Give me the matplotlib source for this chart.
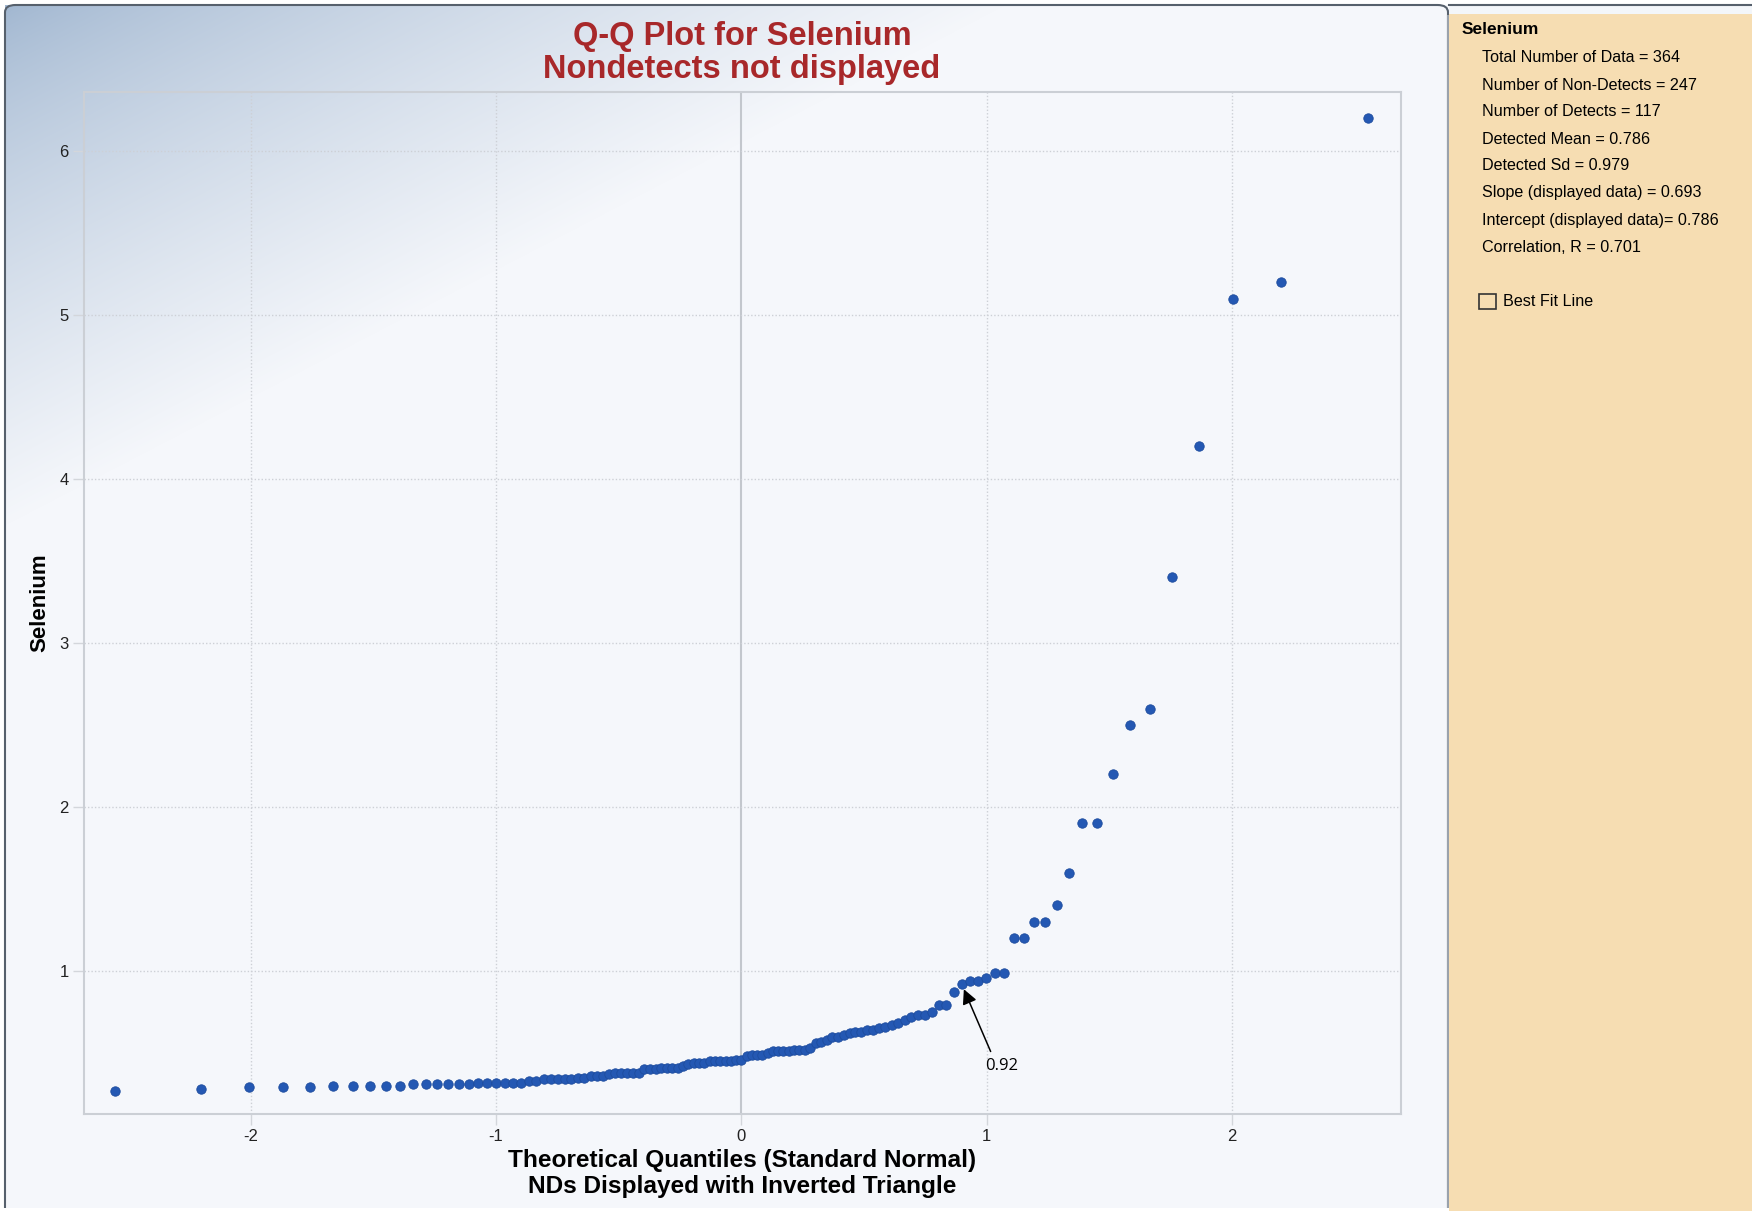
import matplotlib.pyplot as plt
import numpy as np
from statistics import NormalDist
from matplotlib.patches import Rectangle, FancyBboxPatch

# detected Selenium values, sorted
selenium = [
    0.27, 0.28, 0.29, 0.29, 0.29, 0.30, 0.30, 0.30, 0.30, 0.30,
    0.31, 0.31, 0.31, 0.31, 0.31, 0.31, 0.32, 0.32, 0.32, 0.32,
    0.32, 0.32, 0.33, 0.33, 0.34, 0.34, 0.34, 0.34, 0.34, 0.35,
    0.35, 0.36, 0.36, 0.36, 0.37, 0.38, 0.38, 0.38, 0.38, 0.38,
    0.40, 0.40, 0.40, 0.41, 0.41, 0.41, 0.41, 0.42, 0.43, 0.44,
    0.44, 0.44, 0.45, 0.45, 0.45, 0.45, 0.45, 0.46, 0.46, 0.48,
    0.49, 0.49, 0.49, 0.50, 0.51, 0.51, 0.51, 0.51, 0.52, 0.52,
    0.52, 0.53, 0.56, 0.57, 0.58, 0.60, 0.60, 0.61, 0.62, 0.63,
    0.63, 0.64, 0.64, 0.65, 0.66, 0.67, 0.68, 0.70, 0.72, 0.73,
    0.73, 0.75, 0.79, 0.79, 0.87, 0.92, 0.94, 0.94, 0.96, 0.99,
    0.99, 1.2, 1.2, 1.3, 1.3, 1.4, 1.6, 1.9, 1.9, 2.2,
    2.5, 2.6, 3.4, 4.2, 5.1, 5.2, 6.2,
]

title_lines = ['Q-Q Plot for Selenium', 'Nondetects not displayed']
xlabel_lines = ['Theoretical Quantiles (Standard Normal)', 'NDs Displayed with Inverted Triangle']
ylabel = 'Selenium'
stats_title = 'Selenium'
stats_lines = [
    'Total Number of Data = 364',
    'Number of Non-Detects = 247',
    'Number of Detects = 117',
    'Detected Mean = 0.786',
    'Detected Sd = 0.979',
    'Slope (displayed data) = 0.693',
    'Intercept (displayed data)= 0.786',
    'Correlation, R = 0.701',
]
x_ticks = [-2, -1, 0, 1, 2]
y_ticks = [1, 2, 3, 4, 5, 6]
annot_value = 0.92

# theoretical normal quantiles (Blom plotting positions) for the Q-Q plot
n = len(selenium)
nd = NormalDist()
quantiles = [nd.inv_cdf((i - 0.375) / (n + 0.25)) for i in range(1, n + 1)]

W, H = 1752, 1211
fig = plt.figure(figsize=(W / 100, H / 100), dpi=100)
fig.patch.set_facecolor('white')


def fx(px):
    return px / W


def fy(py):
    return 1 - py / H


# background panel with diagonal blue gradient
panel_l, panel_t, panel_r = 5, 5, 1448
bg = fig.add_axes([fx(panel_l), 0, fx(panel_r - panel_l), fy(panel_t)])
bw, bh = panel_r - panel_l, H - panel_t
xx, yy = np.meshgrid(np.arange(bw), np.arange(bh))
s = np.clip(xx / 1000 + yy / 520, 0, 1) ** 0.75
c0 = np.array([160, 182, 208]) / 255
c1 = np.array([245, 247, 251]) / 255
img = c0[None, None, :] * (1 - s[..., None]) + c1[None, None, :] * s[..., None]
bg.imshow(img, aspect='auto', interpolation='bilinear')
bg.set_axis_off()
bg.set_zorder(0)
fig.patches.append(FancyBboxPatch((fx(panel_l), -0.02), fx(panel_r - panel_l), fy(panel_t) + 0.02,
                                  boxstyle='round,pad=0,rounding_size=0.006',
                                  transform=fig.transFigure, facecolor='none',
                                  edgecolor='#56606c', linewidth=1.5, zorder=5))
fig.lines.append(plt.Line2D([fx(panel_r), fx(panel_r)], [0, fy(16)], transform=fig.transFigure,
                            color='#9aa2ac', linewidth=1.5, zorder=6))
fig.patches.append(Rectangle((0, 0), fx(panel_r + 1), 3 / H, transform=fig.transFigure,
                             facecolor='white', edgecolor='none', zorder=6))

# right statistics panel
fig.patches.append(Rectangle((fx(1449), 0), 1 - fx(1449), fy(14), transform=fig.transFigure,
                             facecolor='#f6ddb2', edgecolor='none', zorder=7))
fig.patches.append(Rectangle((fx(1449), fy(14)), 1 - fx(1449), fy(5) - fy(14),
                             transform=fig.transFigure, facecolor='#f3f6fa',
                             edgecolor='none', zorder=7))
fig.lines.append(plt.Line2D([fx(1449), 1], [fy(5), fy(5)], transform=fig.transFigure,
                            color='#56606c', linewidth=1.5, zorder=8))

panel_font = 'Liberation Sans'
fig.text(fx(1462), fy(30), stats_title, fontsize=12.5, fontweight='bold',
         family=panel_font, va='center', ha='left', color='black', zorder=9)
for k, line in enumerate(stats_lines):
    fig.text(fx(1482), fy(58 + k * 27.0), line, fontsize=11.6, family=panel_font,
             va='center', ha='left', color='black', zorder=9)
fig.patches.append(Rectangle((fx(1479), fy(309)), fx(17), fy(294) - fy(309),
                             transform=fig.transFigure, facecolor='none',
                             edgecolor='#333333', linewidth=1.2, zorder=9))
fig.text(fx(1503), fy(302), 'Best Fit Line', fontsize=11.6, family=panel_font,
         va='center', ha='left', color='black', zorder=9)

# main Q-Q axes
ax = fig.add_axes([fx(84), fy(1114), fx(1401 - 84), fy(92) - fy(1114)])
ax.set_zorder(2)
ax.patch.set_alpha(0)

ax.scatter(quantiles, selenium, s=46, color='#2458b3', edgecolors='#1d4c9e',
           linewidths=0.6, zorder=4)

ax.set_xlim(-2.68, 2.69)
ax.set_ylim(0.128, 6.36)
ax.set_xticks(x_ticks)
ax.set_xticklabels([str(t) for t in x_ticks])
ax.set_yticks(y_ticks)
ax.set_yticklabels([str(t) for t in y_ticks])

for t in x_ticks:
    if t == 0:
        ax.axvline(t, color='#c3c7cd', linewidth=1.5, zorder=1)
    else:
        ax.axvline(t, color='#cdd0d6', linewidth=1.0, linestyle=(0, (1, 1.5)), zorder=1)
for t in y_ticks:
    ax.axhline(t, color='#cdd0d6', linewidth=1.0, linestyle=(0, (1, 1.5)), zorder=1)

for sp in ax.spines.values():
    sp.set_color('#cbcfd5')
    sp.set_linewidth(1.5)
ax.tick_params(axis='both', length=8, width=1, color='#d3d6db', labelcolor='#222222',
               labelsize=12)
ax.tick_params(axis='x', pad=3)
ax.tick_params(axis='y', pad=3)
for lab in ax.get_xticklabels() + ax.get_yticklabels():
    lab.set_family('Liberation Sans')

# title and axis labels, placed line by line
title_base = [45, 78]
for txt, yb in zip(title_lines, title_base):
    fig.text(fx(742), fy(yb), txt, color='#a8282a', fontsize=23.5, fontweight='bold',
             family='Liberation Sans', ha='center', va='baseline', zorder=9)
xlabel_base = [1167, 1193]
for txt, yb in zip(xlabel_lines, xlabel_base):
    fig.text(fx(742), fy(yb), txt, color='black', fontsize=17.6, fontweight='bold',
             family='Liberation Sans', ha='center', va='baseline', zorder=9)
ax.set_ylabel(ylabel, fontsize=16, fontweight='bold', family='Liberation Sans')
ax.yaxis.set_label_coords((50 - 84) / (1401 - 84), 0.5)

i92 = selenium.index(annot_value)
ax.annotate('{:.2f}'.format(annot_value), xy=(quantiles[i92], selenium[i92]),
            xytext=(1.062, 0.42), ha='center', va='center', fontsize=12,
            family='Open Sans', color='black', zorder=6,
            arrowprops=dict(arrowstyle='-|>', color='black', lw=1.1,
                            mutation_scale=22, shrinkA=3, shrinkB=4,
                            relpos=(0.25, 1.0)))

plt.savefig('out.png', dpi=100)
